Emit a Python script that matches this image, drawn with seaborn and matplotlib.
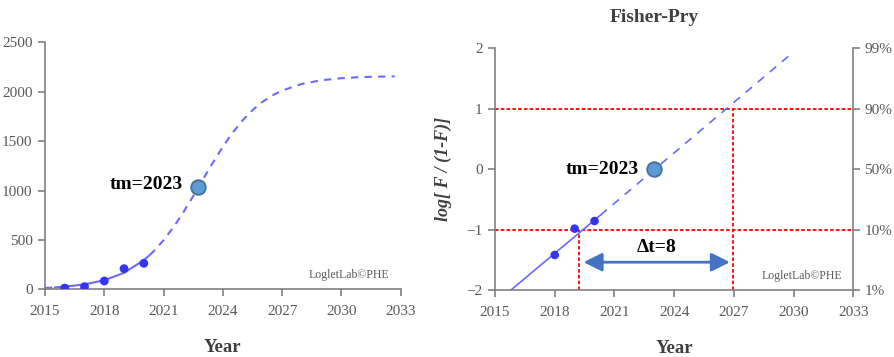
import numpy as np
import pandas as pd
import matplotlib
matplotlib.use("Agg")
import matplotlib.pyplot as plt
import seaborn as sns

# ---- data ----
obs_years = [2016, 2017, 2018, 2019, 2020]
obs_values = [13, 27, 84, 209, 263]

# fitted logistic curve
fit_years = [2015.0, 2015.5, 2016, 2017, 2018, 2019, 2020, 2020.3, 2020.5, 2021, 2021.5,
             2022, 2022.5, 2023, 2023.5, 2024, 2024.5, 2025, 2025.5, 2026, 2026.5,
             2027, 2028, 2029, 2030, 2031, 2032, 2032.7]
fit_values = [14, 19, 27, 50, 92, 167, 295, 347, 386, 497, 629,
              779, 944, 1115, 1284, 1443, 1587, 1710, 1813, 1896, 1962,
              2012, 2079, 2116, 2137, 2148, 2153, 2155]
solid_from, solid_to = 2015.5, 2020.3

tm_year = 2022.76
tm_value = 1032

# Fisher-Pry panel
fp_years = [2018, 2019, 2020]
fp_values = [-1.42, -0.985, -0.858]
fp_line_years = [2015.8, 2020.3, 2030.0]
fp_line_values = [-2.0, -0.76, 1.94]
fp_tm = 2023.0
ref_levels = [-1, 1]
ref_years = [2019.24, 2026.97]
arrow_y = -1.54
arrow_from, arrow_to = 2019.45, 2026.8

x_ticks = [2015, 2018, 2021, 2024, 2027, 2030, 2033]
left_yticks = [0, 500, 1000, 1500, 2000, 2500]
fp_yticks = [-2, -1, 0, 1, 2]
pct_labels = ["1%", "10%", "50%", "90%", "99%"]

# ---- style ----
sns.set_theme(style="ticks")
plt.rcParams['font.family'] = ['Liberation Serif', 'DejaVu Serif']

gray = '#808080'
txt_gray = '#595959'
line_c = '#6b6bff'
dot_c = '#3434f2'
big_face = '#5b9bd5'
big_edge = '#41719c'

fig = plt.figure(figsize=(8.95, 3.57), dpi=100)
ax1 = fig.add_axes([0.0503, 0.1896, 0.3974, 0.6919])
ax2 = fig.add_axes([0.5531, 0.1877, 0.4003, 0.6770])


def style_axis(ax):
    for s in ['top', 'right']:
        ax.spines[s].set_visible(False)
    for s in ['left', 'bottom']:
        ax.spines[s].set_color(gray)
        ax.spines[s].set_linewidth(1.2)
    ax.tick_params(colors=gray, labelcolor=txt_gray, length=5, width=1.2,
                   labelsize=11, pad=4)
    ax.tick_params(axis='x', pad=6.5)
    ax.set_xlim(2015, 2033)
    ax.set_xticks(x_ticks)
    ax.set_xlabel("Year", fontsize=13.5, fontweight='bold', color='#404040', labelpad=15)
    ax.set_facecolor('white')


# ---- left panel: cumulative ----
fit = pd.DataFrame({'year': fit_years, 'value': fit_values})
solid = fit[(fit.year >= solid_from) & (fit.year <= solid_to)]
dash_a = fit[fit.year <= solid_from]
dash_b = fit[fit.year >= solid_to]

sns.lineplot(data=dash_a, x='year', y='value', ax=ax1, color=line_c, lw=1.5,
             linestyle=(0, (3.5, 3)))
sns.lineplot(data=dash_b, x='year', y='value', ax=ax1, color=line_c, lw=1.5,
             linestyle=(0, (3.5, 3)))
sns.lineplot(data=solid, x='year', y='value', ax=ax1, color=line_c, lw=1.5)
sns.scatterplot(x=obs_years, y=obs_values, ax=ax1, color=dot_c, s=40,
                edgecolor='none', zorder=5)
ax1.plot([tm_year], [tm_value], 'o', ms=10.5, mfc=big_face, mec=big_edge,
         mew=1.3, zorder=6)
ax1.text(tm_year - 0.78, tm_value + 25, "tm=2023", ha='right', va='center',
         fontsize=14, fontweight='bold', color='black')
ax1.text(0.969, 0.058, "LogletLab©PHE", transform=ax1.transAxes, ha='right',
         va='center', fontsize=8.5, color=txt_gray)

style_axis(ax1)
ax1.set_ylim(0, 2500)
ax1.set_yticks(left_yticks)
ax1.set_ylabel("")

# ---- right panel: Fisher-Pry ----
ax2.set_xlim(2015, 2033)
ax2.set_ylim(-2, 2)
for lv in ref_levels:
    ax2.axhline(lv, color='red', lw=1.3, linestyle=(0, (2, 1.2)), zorder=2)
for ry, lv in zip(ref_years, ref_levels):
    ax2.plot([ry, ry], [-2, lv], color='red', lw=1.3, linestyle=(0, (2, 1.2)), zorder=2)

fp_line = pd.DataFrame({'year': fp_line_years, 'value': fp_line_values})
sns.lineplot(data=fp_line.iloc[:2], x='year', y='value', ax=ax2, color=line_c, lw=1.2)
sns.lineplot(data=fp_line.iloc[1:], x='year', y='value', ax=ax2, color=line_c, lw=1.2,
             linestyle=(0, (5, 4.5)))
sns.scatterplot(x=fp_years, y=fp_values, ax=ax2, color=dot_c, s=38,
                edgecolor='none', zorder=5)
ax2.plot([fp_tm], [0], 'o', ms=10.5, mfc=big_face, mec=big_edge, mew=1.3, zorder=6)
ax2.text(fp_tm - 0.8, 0, "tm=2023", ha='right', va='center',
         fontsize=14, fontweight='bold', color='black')

ax2.annotate("", xy=(arrow_from, arrow_y), xytext=(arrow_to, arrow_y),
             arrowprops=dict(arrowstyle='<|-|>', color='#4472c4', lw=2,
                             mutation_scale=28, shrinkA=0, shrinkB=0))
ax2.text((arrow_from + arrow_to) / 2, arrow_y + 0.24, "Δt=8", ha='center',
         va='center', fontsize=14, fontweight='bold', color='black')
ax2.text(0.968, 0.059, "LogletLab©PHE", transform=ax2.transAxes, ha='right',
         va='center', fontsize=8.5, color=txt_gray)

style_axis(ax2)
ax2.set_yticks(fp_yticks)
ax2.set_ylabel("log[ F / (1-F)]", fontsize=13, fontweight='bold', style='italic',
               color='#404040', labelpad=10)

axr = ax2.twinx()
axr.set_ylim(-2, 2)
axr.set_yticks(fp_yticks)
axr.set_yticklabels(pct_labels)
for s in ['top', 'left', 'bottom']:
    axr.spines[s].set_visible(False)
axr.spines['right'].set_color(gray)
axr.spines['right'].set_linewidth(1.2)
axr.tick_params(colors=gray, labelcolor=txt_gray, length=5, width=1.2,
                labelsize=11, pad=3)

fig.text(0.731, 0.952, "Fisher-Pry", ha='center', va='center', fontsize=14,
         fontweight='bold', color='#404040')

fig.savefig("out.png", dpi=100, facecolor='white')
